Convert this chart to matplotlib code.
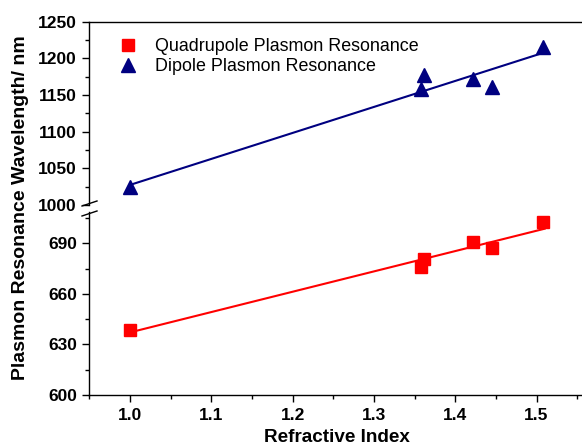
import numpy as np
import matplotlib
matplotlib.use('Agg')
import matplotlib.pyplot as plt
from matplotlib.ticker import MultipleLocator

plt.rcParams['font.family'] = ['Liberation Sans', 'DejaVu Sans']

# data
n_quad = [1.000, 1.358, 1.362, 1.422, 1.445, 1.508]
wl_quad = [638.5, 675.8, 680.5, 690.6, 687.2, 702.6]
n_dip = [1.000, 1.358, 1.362, 1.422, 1.445, 1.508]
wl_dip = [1024, 1158, 1177, 1172, 1161, 1215]

W, H = 582, 445
fig = plt.figure(figsize=(W / 100, H / 100), dpi=100)

def px_box(x0, y0, x1, y1):
    return [x0 / W, 1 - y1 / H, (x1 - x0) / W, (y1 - y0) / H]

ax_top = fig.add_axes(px_box(89.3, 21.7, 585.3, 205))
ax_bot = fig.add_axes(px_box(89.3, 212, 585.3, 395))

TICK_FS = 12.5
xfit = np.array([1.0, 1.51])
for ax in (ax_top, ax_bot):
    ax.set_xlim(0.95, 1.56)
    ax.tick_params(which='both', direction='out', top=False, right=False)
    ax.tick_params(which='major', length=5, width=1, labelsize=TICK_FS, pad=4)
    ax.tick_params(which='minor', length=3, width=1)
    ax.xaxis.set_major_locator(MultipleLocator(0.1))
    ax.xaxis.set_minor_locator(MultipleLocator(0.05))
    for s in ax.spines.values():
        s.set_linewidth(1)

# upper panel: dipole
kd = np.polyfit(n_dip, wl_dip, 1)
ax_top.plot(xfit, np.polyval(kd, xfit), color='#000080', lw=1.5)
ax_top.plot(n_dip, wl_dip, '^', color='#000080', ms=9.5, label='Dipole Plasmon Resonance')
ax_top.set_ylim(1000, 1250)
ax_top.yaxis.set_major_locator(MultipleLocator(50))
ax_top.yaxis.set_minor_locator(MultipleLocator(25))
ax_top.spines['bottom'].set_visible(False)
ax_top.tick_params(axis='x', which='both', bottom=False, labelbottom=False)

# lower panel: quadrupole
kq = np.polyfit(n_quad, wl_quad, 1)
ax_bot.plot(xfit, np.polyval(kq, xfit), color='#FF0000', lw=1.5)
ax_bot.plot(n_quad, wl_quad, 's', color='#FF0000', ms=8, label='Quadrupole Plasmon Resonance')
ax_bot.set_ylim(600, 708.5)
ax_bot.yaxis.set_major_locator(MultipleLocator(30))
ax_bot.yaxis.set_minor_locator(MultipleLocator(15))
ax_bot.spines['top'].set_visible(False)
ax_bot.set_xlabel('Refractive Index', fontsize=13.6, fontweight='bold', labelpad=5)

for ax in (ax_top, ax_bot):
    for lab in ax.get_xticklabels() + ax.get_yticklabels():
        lab.set_fontweight('bold')

# break marks on the left axis
for yb in (203.5, 213.5):
    fig.add_artist(plt.Line2D([82 / W, 97 / W], [1 - (yb + 2.5) / H, 1 - (yb - 2.5) / H],
                              color='black', lw=1))

# legend
h1 = ax_bot.get_lines()[1]
h2 = ax_top.get_lines()[1]
fig.legend([h1, h2], [h1.get_label(), h2.get_label()], loc='upper left',
           bbox_to_anchor=(119 / W, 1 - 38 / H), frameon=False, fontsize=12.9,
           borderpad=0, borderaxespad=0, handlelength=1.0, handletextpad=1.0,
           labelspacing=0.17)

fig.text(21 / W, 1 - 208 / H, 'Plasmon Resonance Wavelength/ nm', rotation=90,
         ha='center', va='center', fontsize=14, fontweight='bold')

fig.savefig('out.png', dpi=100)
